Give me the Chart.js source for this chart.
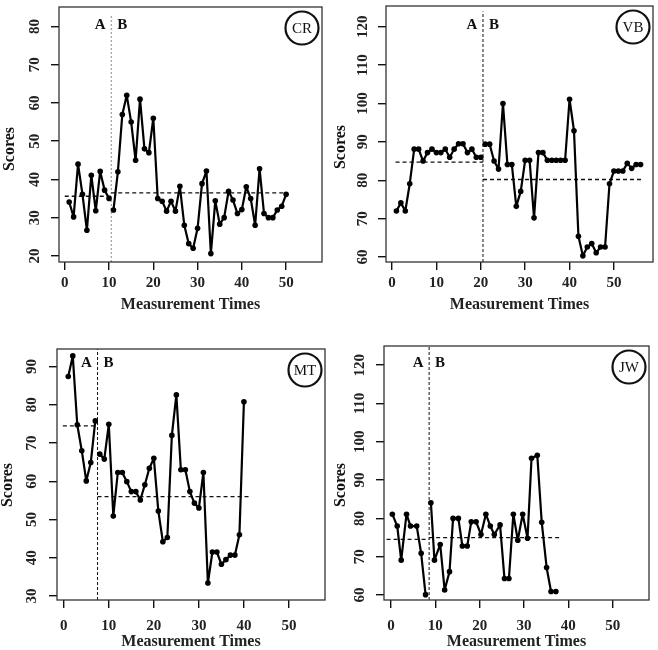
<!DOCTYPE html>
<html>
<head>
<meta charset="utf-8">
<title>Scores by measurement time</title>
<script src="https://cdn.jsdelivr.net/npm/chart.js@4.4.1/dist/chart.umd.min.js"></script>
<style>
  body { margin: 0; background: #fff; }
  #page { position: relative; width: 658px; height: 650px; overflow: hidden; }
  #page canvas { position: absolute; }
</style>
</head>
<body>
<div id="page">
  <canvas id="cr" width="329" height="325" style="left:0;top:0"></canvas>
  <canvas id="vb" width="329" height="325" style="left:329px;top:0"></canvas>
  <canvas id="mt" width="329" height="325" style="left:0;top:325px"></canvas>
  <canvas id="jw" width="329" height="325" style="left:329px;top:325px"></canvas>
</div>
<script>
// ======= Data =======
const xTicks = [0, 10, 20, 30, 40, 50];

// CR: A = times 1-10, B = 11-50
const crA = [34.1, 30.2, 44, 36.1, 26.7, 41.1, 31.8, 42.1, 37.2, 35];
const crB = [32, 42, 57, 62, 55, 45, 61, 48, 47, 56,
             35, 34.3, 31.7, 34.3, 31.7, 38.2, 28, 23.2, 22, 27.2,
             38.9, 42.2, 20.6, 34.4, 28.3, 30, 36.9, 34.6, 31.1, 32.1,
             38.1, 35, 28, 42.8, 31.1, 30, 30, 32, 33, 36.1];
const crMeans = [35.6, 36.5];
const crTicks = [20, 30, 40, 50, 60, 70, 80];

// VB: A = times 1-20, B = 21-56
const vbA = [72, 74.1, 72, 79.1, 88.1, 88.1, 85, 87.2, 88.1, 87.2,
             87.2, 88.1, 86, 88.1, 89.5, 89.5, 87.2, 88.1, 86, 86];
const vbB = [89.4, 89.4, 85, 82.9, 100, 84.1, 84.1, 73.2, 77.1, 85.2,
             85.2, 70.2, 87.2, 87.2, 85.2, 85.2, 85.2, 85.2, 85.2, 101.1,
             92.9, 65.4, 60.3, 62.6, 63.5, 61.1, 62.6, 62.6, 79.1, 82.4,
             82.4, 82.4, 84.4, 83.1, 84.1, 84.1];
const vbMeans = [84.7, 80.2];
const vbTicks = [60, 70, 80, 90, 100, 110, 120];

// MT: A = times 1-7, B = 8-40
const mtA = [87.4, 92.8, 74.8, 68, 60.1, 64.9, 75.8];
const mtB = [67.1, 65.8, 74.9, 50.9, 62.3, 62.3, 59.9, 57.3, 57.3, 55.1,
             59.1, 63.4, 66, 52.2, 44.2, 45.3, 72, 82.6, 63, 63,
             57.3, 54.3, 53, 62.3, 33.4, 41.5, 41.5, 38.3, 39.5, 40.7,
             40.7, 46, 80.8];
const mtMeans = [74.5, 56];
const mtTicks = [30, 40, 50, 60, 70, 80, 90];

// JW: points sit a little off the integer times in the figure, so their times are read too
const jwTimesA = [0.3, 1.4, 2.3, 3.5, 4.4, 5.8, 6.8, 7.8];
const jwA = [81.1, 78, 69.1, 81.1, 78, 78, 70.9, 60.1];
const jwTimesB = [9.0, 9.8, 11.1, 12.1, 13.2, 14.0, 15.2, 16.1, 17.2, 18.1,
                  19.2, 20.3, 21.4, 22.4, 23.3, 24.6, 25.6, 26.6, 27.6, 28.6,
                  29.7, 30.8, 31.7, 33.0, 34.0, 35.1, 36.1, 37.2];
const jwB = [84.1, 69.1, 73.2, 61.3, 66.1, 80, 80, 72.8, 72.8, 79.1,
             79.1, 75.8, 81.1, 78, 75.8, 78.3, 64.3, 64.3, 81.1, 74.3,
             81.1, 74.8, 95.7, 96.5, 79, 67.2, 60.9, 60.9];
const jwMeans = [74.5, 75];
const jwTicks = [60, 70, 80, 90, 100, 110, 120];

// ======= Panel layout =======
const W = 329, H = 325;
const serif = '"Liberation Serif", "Times New Roman", serif';

const panels = [
  { id: 'cr', tag: 'CR', a: crA, b: crB, means: crMeans, yTicks: crTicks,
    phase: 10.5, phaseTop: 83.3, meanFrom: 0, meanTo: 50, xRange: [-1.3, 58.1], yRange: [18.4, 85.1],
    box: [59, 7, 322, 262], abY: 18, yLabelX: 35, xGap: 4, titleGap: 12,
    scoresAt: [10, 149], phaseColor: '#8a8a8a', phaseDash: [2, 2] },
  { id: 'vb', tag: 'VB', a: vbA, b: vbB, means: vbMeans, yTicks: vbTicks,
    phase: 20.5, phaseTop: 124, meanFrom: 0.8, meanTo: 56.5, xRange: [-1.35, 58.8], yRange: [58.7, 125.4],
    box: [57, 6, 324, 262], abY: 19, yLabelX: 34, xGap: 4, titleGap: 12,
    scoresAt: [12, 147], phaseColor: '#111', phaseDash: [3, 2] },
  { id: 'mt', tag: 'MT', a: mtA, b: mtB, means: mtMeans, yTicks: mtTicks,
    phase: 7.5, phaseTop: 94.6, meanFrom: -0.2, meanTo: 41.4, xRange: [-1.5, 58.0], yRange: [28.95, 94.6],
    box: [57, 24, 325, 275], abY: 14, yLabelX: 32, xGap: 9, titleGap: 0,
    scoresAt: [8, 160], phaseColor: '#111', phaseDash: [3, 2] },
  { id: 'jw', tag: 'JW', a: jwA, b: jwB, tA: jwTimesA, tB: jwTimesB, means: jwMeans, yTicks: jwTicks,
    phase: 8.6, phaseTop: 125, meanFrom: -1, meanTo: 38.4, xRange: [-1.58, 58.2], yRange: [58.7, 125],
    box: [55, 21, 320, 275], abY: 17.5, yLabelX: 31, xGap: 9, titleGap: 0,
    scoresAt: [12, 160], phaseColor: '#111', phaseDash: [3, 2] }
];

// box, A/B phase labels, subject badge and the y title
const decor = {
  id: 'decor',
  afterDraw(chart, args, o) {
    const { ctx, chartArea: a, scales: { x } } = chart;
    const px = x.getPixelForValue(o.phase);
    ctx.save();
    ctx.strokeStyle = '#333';
    ctx.lineWidth = 1.3;
    ctx.strokeRect(a.left, a.top, a.right - a.left, a.bottom - a.top);

    ctx.fillStyle = '#111';
    ctx.textAlign = 'center';
    ctx.textBaseline = 'middle';
    ctx.font = 'bold 15px ' + serif;
    ctx.fillText('A', px - 11, a.top + o.abY);
    ctx.fillText('B', px + 11, a.top + o.abY);

    ctx.beginPath();
    ctx.lineWidth = 2.2;
    ctx.strokeStyle = '#111';
    ctx.arc(a.right - 20, a.top + 21, 16.5, 0, Math.PI * 2);
    ctx.stroke();
    ctx.font = '15px ' + serif;
    ctx.fillText(o.tag, a.right - 20, a.top + 22);

    ctx.translate(o.scoresAt[0], o.scoresAt[1]);
    ctx.rotate(-Math.PI / 2);
    ctx.font = 'bold 16px ' + serif;
    ctx.fillText('Scores', 0, 0);
    ctx.restore();
  }
};

const measure = document.createElement('canvas').getContext('2d');
measure.font = 'bold 15px ' + serif;

function points(vals, times, first) {
  return vals.map((v, i) => ({ x: times ? times[i] : first + i, y: v }));
}

function dashed(data, color, dash, width) {
  return { data, borderColor: color, borderWidth: width, borderDash: dash,
           pointRadius: 0, fill: false, tension: 0 };
}

panels.forEach(p => {
  const [L, T, R, B] = p.box;
  const tl = 8;
  const widest = Math.max(...p.yTicks.map(v => measure.measureText(String(v)).width));
  const yPad = L - tl - widest / 2 - p.yLabelX;
  const series = { borderColor: '#000', backgroundColor: '#000', borderWidth: 2.2,
                   borderJoinStyle: 'round', borderCapStyle: 'round',
                   pointRadius: 2.8, pointBorderWidth: 0, tension: 0, fill: false };
  const tickFont = { family: serif, size: 15, weight: 'bold' };

  new Chart(document.getElementById(p.id), {
    type: 'line',
    data: {
      datasets: [
        { ...series, data: points(p.a, p.tA, 1) },
        { ...series, data: points(p.b, p.tB, p.a.length + 1) },
        dashed([{ x: p.meanFrom, y: p.means[0] }, { x: p.phase, y: p.means[0] }], '#111', [4, 3], 1.3),
        dashed([{ x: p.phase, y: p.means[1] }, { x: p.meanTo, y: p.means[1] }], '#111', [4, 3], 1.3),
        dashed([{ x: p.phase, y: p.yRange[0] }, { x: p.phase, y: p.phaseTop }], p.phaseColor, p.phaseDash, 1)
      ]
    },
    options: {
      responsive: false,
      animation: false,
      events: [],
      layout: { padding: { left: 0, top: T, right: W - R, bottom: 0 } },
      plugins: {
        legend: { display: false },
        tooltip: { enabled: false },
        decor: { phase: p.phase, tag: p.tag, abY: p.abY, scoresAt: p.scoresAt }
      },
      scales: {
        x: {
          type: 'linear', min: p.xRange[0], max: p.xRange[1],
          afterBuildTicks: s => { s.ticks = xTicks.map(v => ({ value: v })); },
          afterFit: s => { s.height = H - B; s.paddingLeft = 0; s.paddingRight = 0; },
          grid: { drawOnChartArea: false, drawTicks: true, tickLength: tl, color: '#111', lineWidth: 1.4 },
          border: { display: false },
          ticks: { font: tickFont, color: '#222', padding: p.xGap, maxRotation: 0, autoSkip: false },
          title: { display: true, text: 'Measurement Times', color: '#222',
                   font: { family: serif, size: 16, weight: 'bold', lineHeight: 1 },
                   padding: { top: 0, bottom: p.titleGap } }
        },
        y: {
          type: 'linear', min: p.yRange[0], max: p.yRange[1],
          afterBuildTicks: s => { s.ticks = p.yTicks.map(v => ({ value: v })); },
          afterFit: s => { s.width = L; s.paddingTop = 0; s.paddingBottom = 0; },
          grid: { drawOnChartArea: false, drawTicks: true, tickLength: tl, color: '#111', lineWidth: 1.4 },
          border: { display: false },
          ticks: { font: tickFont, color: '#222', padding: yPad, minRotation: 90, maxRotation: 90,
                   crossAlign: 'center', autoSkip: false }
        }
      }
    },
    plugins: [decor]
  });
});
</script>
</body>
</html>
